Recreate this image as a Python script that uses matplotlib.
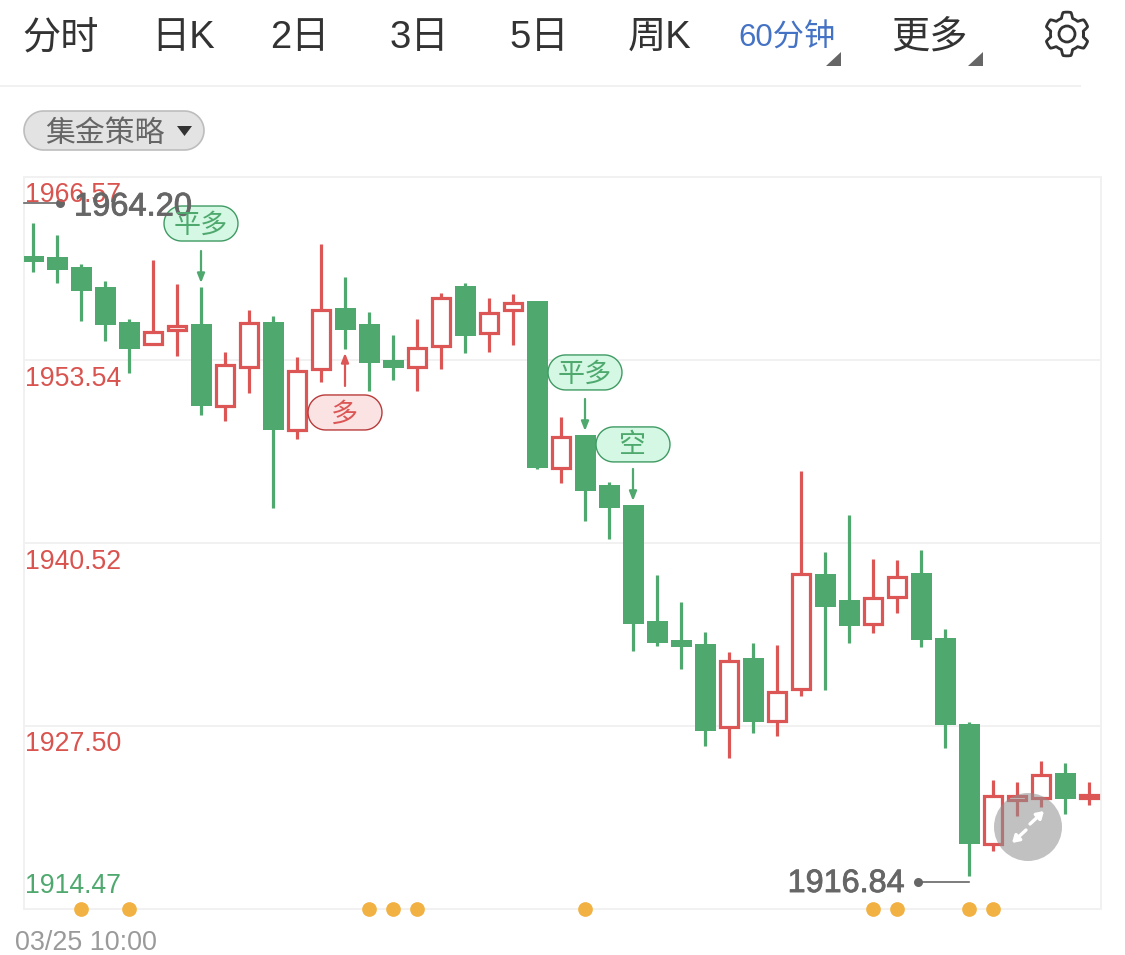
import numpy as np
import matplotlib
matplotlib.use("Agg")
import matplotlib.pyplot as plt
import matplotlib.patheffects as pe
from matplotlib.patches import Polygon, Circle, Rectangle

plt.rcParams['font.family'] = ['Liberation Sans', 'Noto Sans CJK SC', 'DejaVu Sans']

# candles
opens = [1960.95, 1960.88, 1960.16, 1958.74, 1956.25, 1954.61, 1955.61, 1956.11, 1950.20, 1952.98,
         1956.25, 1948.49, 1952.83, 1957.25, 1956.11, 1953.55, 1952.98, 1954.47, 1958.81, 1955.40,
         1957.03, 1957.74, 1945.79, 1948.21, 1944.65, 1943.23, 1934.97, 1933.62, 1933.33, 1927.36,
         1932.34, 1927.78, 1930.06, 1938.32, 1936.47, 1934.69, 1936.61, 1938.39, 1933.76, 1927.64,
         1919.03, 1922.16, 1922.30, 1924.15, 1922.30]
highs = [1963.30, 1962.44, 1960.38, 1959.17, 1956.46, 1960.66, 1958.95, 1958.74, 1954.12, 1957.10,
         1956.68, 1953.76, 1961.80, 1959.45, 1956.96, 1955.33, 1956.46, 1958.31, 1959.03, 1957.96,
         1958.24, 1957.74, 1949.49, 1948.21, 1944.86, 1943.23, 1938.24, 1936.32, 1934.19, 1932.76,
         1933.40, 1933.26, 1945.65, 1939.88, 1942.51, 1939.38, 1939.31, 1940.02, 1934.40, 1927.78,
         1923.65, 1923.51, 1925.01, 1924.86, 1923.51]
lows = [1959.81, 1959.03, 1956.32, 1954.90, 1952.62, 1954.61, 1953.83, 1949.63, 1949.20, 1951.20,
        1943.01, 1947.92, 1951.98, 1954.33, 1951.34, 1952.12, 1951.34, 1952.91, 1954.04, 1954.12,
        1954.61, 1945.79, 1944.79, 1942.09, 1940.81, 1932.84, 1933.19, 1931.55, 1926.07, 1925.22,
        1927.00, 1926.79, 1929.63, 1930.06, 1933.40, 1934.12, 1935.54, 1933.12, 1925.93, 1916.82,
        1918.60, 1921.09, 1921.73, 1921.23, 1921.88]
closes = [1960.52, 1959.95, 1958.46, 1956.04, 1954.33, 1955.61, 1956.04, 1950.27, 1953.26, 1956.25,
          1948.56, 1952.83, 1957.18, 1955.68, 1953.33, 1952.98, 1954.47, 1958.03, 1955.25, 1956.96,
          1957.67, 1945.86, 1948.14, 1944.22, 1943.01, 1934.76, 1933.40, 1933.12, 1927.14, 1932.19,
          1927.78, 1929.99, 1938.39, 1935.97, 1934.61, 1936.68, 1938.17, 1933.62, 1927.57, 1919.10,
          1922.59, 1922.59, 1924.08, 1922.30, 1922.66]

# axis and labels
y_ticks = [1966.57, 1953.54, 1940.52, 1927.50, 1914.47]
y_tick_labels = ["1966.57", "1953.54", "1940.52", "1927.50", "1914.47"]
date_label = "03/25 10:00"
tabs = ["分时", "日K", "2日", "3日", "5日", "周K", "60分钟", "更多"]
tab_lefts = [22, 151, 270, 390, 509, 628, 738, 891]

# strategy signals: candle, text
signal_idx = [7, 23, 25, 13]
signal_text = ["平多", "平多", "空", "多"]
dot_idx = [2, 4, 14, 15, 16, 23, 35, 36, 39, 40]

# max / min callouts
high_label = "1964.20"
low_label = "1916.84"
high_mark = 1964.72
low_mark = 1916.39

GREEN = "#4fa96e"
RED = "#dc5656"
GRID = "#f1f1f1"
W, H = 1125, 955

fig = plt.figure(figsize=(W / 100, H / 100), dpi=100, facecolor="white")

# chart area, 24..1101 x 177..909 in pixels
ax = fig.add_axes([24 / W, 1 - 909 / H, 1077 / W, 732 / H])
ax.set_xlim(-0.375, 44.5)
ax.set_ylim(y_ticks[-1], y_ticks[0])
ax.set_xticks([])
ax.set_yticks([])
for s in ax.spines.values():
    s.set_color(GRID)
    s.set_linewidth(1.4)
for v in y_ticks[1:-1]:
    ax.axhline(v, color=GRID, lw=1.4, zorder=1)

body_w = 21 / 24
for i in range(len(opens)):
    up = closes[i] >= opens[i]
    col = RED if up else GREEN
    ax.vlines(i, lows[i], highs[i], color=col, lw=2.3, zorder=2)
    top = max(opens[i], closes[i])
    bot = min(opens[i], closes[i])
    if up:
        # hollow body, pulled in so the outer edge matches the green ones
        inset_x = 1.2 / 24
        inset_y = 1.2 / 14.05
        ax.add_patch(Rectangle((i - body_w / 2 + inset_x, bot + inset_y), body_w - 2 * inset_x,
                               max(top - bot - 2 * inset_y, 0.01),
                               facecolor="white", edgecolor=col, lw=2.3, zorder=3))
    else:
        ax.add_patch(Rectangle((i - body_w / 2, bot), body_w, top - bot,
                               facecolor=col, edgecolor="none", zorder=3))

ax.scatter(dot_idx, [y_ticks[-1]] * len(dot_idx), s=112, color="#f1b143", zorder=5, clip_on=False, linewidths=0)

# overlay in pixel coordinates for the app chrome
ov = fig.add_axes([0, 0, 1, 1], facecolor="none")
ov.set_xlim(0, W)
ov.set_ylim(H, 0)
ov.axis("off")


def px(i, price):
    x, y = ax.transData.transform((i, price))
    return x, H - y


def stadium(x0, x1, y0, y1, **kw):
    # pill shape with fully round ends
    rad = (y1 - y0) / 2
    a = np.linspace(-np.pi / 2, np.pi / 2, 30)
    right = np.column_stack([x1 - rad + rad * np.cos(a), (y0 + y1) / 2 + rad * np.sin(a)])
    left = np.column_stack([x0 + rad - rad * np.cos(a[::-1]), (y0 + y1) / 2 + rad * np.sin(a[::-1])])
    ov.add_patch(Polygon(np.vstack([right, left]), closed=True, **kw))


# tab bar
for t, left in zip(tabs, tab_lefts):
    if t == "60分钟":
        ov.text(left, 39, t, fontsize=22.5, color="#4472c4", va="center", ha="left")
    else:
        ov.text(left, 38, t, fontsize=27.5, color="#333333", va="center", ha="left")
ov.add_patch(Polygon([(826, 66), (841, 66), (841, 52)], color="#666666", lw=0))
ov.add_patch(Polygon([(968, 66), (983, 66), (983, 52)], color="#666666", lw=0))
ov.plot([0, 1080], [86, 86], color=GRID, lw=1.4)

# gear icon
theta = np.linspace(0, 2 * np.pi, 361)
r = 19.2 + 2.7 * np.clip(np.cos(6 * (theta + np.pi / 6)) * 2.2, -1, 1)
ov.plot(1067 + r * np.cos(theta), 34 + r * np.sin(theta), color="#333333", lw=2.0)
ov.add_patch(Circle((1067, 34), 8, facecolor="none", edgecolor="#333333", lw=2.0))

# strategy pill
stadium(24, 204, 111, 150, facecolor="#e3e3e3", edgecolor="#bdbdbd", lw=1.2)
ov.text(45, 134, "集金策略", fontsize=21.5, color="#666666", va="center", ha="left")
ov.add_patch(Polygon([(177, 126), (192, 126), (184.5, 136)], color="#333333", lw=0))

# price labels
for k, (v, lab) in enumerate(zip(y_ticks, y_tick_labels)):
    yy = px(0, v)[1]
    if k == 0:
        yy += 18
    elif k == len(y_ticks) - 1:
        yy -= 23
    else:
        yy += 18.5
    ov.text(25, yy, lab, fontsize=19.2, color=GREEN if k == len(y_ticks) - 1 else "#d9534f",
            va="center", ha="left")
ov.text(15, 943, date_label, fontsize=19.4, color="#9a9a9a", va="center", ha="left")

# max / min callouts
thick = [pe.withStroke(linewidth=0.6, foreground="#666666")]
hx, hy = px(-0.375, high_mark)
ov.plot([hx, hx + 36], [hy, hy], color="#666666", lw=1.2)
ov.plot([hx + 36], [hy], "o", color="#666666", ms=6.5, mew=0)
ov.text(hx + 50, hy + 4, high_label, fontsize=23.5, color="#666666", va="center", ha="left", path_effects=thick)
lx, ly = px(39, low_mark)
ov.plot([lx, lx - 51], [ly, ly], color="#666666", lw=1.2)
ov.plot([lx - 51], [ly], "o", color="#666666", ms=6.5, mew=0)
ov.text(lx - 64, ly + 2, low_label, fontsize=23.3, color="#666666", va="center", ha="right", path_effects=thick)

# strategy signals
pill_gap = [63.5, 62.5, 60.5, 63.5]
for i, t, gap in zip(signal_idx, signal_text, pill_gap):
    is_long = t == "多"
    col = RED if is_long else GREEN
    if is_long:
        sx, sy = px(i, lows[i])
        tail, tip, cy = sy + 37, sy + 4, sy + gap
        face, edge = "#fbe3e3", "#b93a3a"
    else:
        sx, sy = px(i, highs[i])
        tail, tip, cy = sy - 36, sy - 4, sy - gap
        face, edge = "#d4f8e3", "#3f9a63"
    ov.annotate("", xy=(sx, tip), xytext=(sx, tail),
                arrowprops=dict(arrowstyle="-|>,head_width=0.22,head_length=0.55", color=col, lw=1.6,
                                shrinkA=0, shrinkB=0))
    stadium(sx - 37, sx + 37, cy - 17.5, cy + 17.5, facecolor=face, edgecolor=edge, lw=1.0)
    ov.text(sx, cy + 2, t, fontsize=19.5, color=col, va="center", ha="center")

# expand button
ov.add_patch(Circle((1028, 827), 34, facecolor="#8f8f8f", edgecolor="none", alpha=0.55, zorder=6))
ov.annotate("", xy=(1044, 811), xytext=(1030, 824), zorder=7,
            arrowprops=dict(arrowstyle="-|>,head_width=0.25,head_length=0.4", color="white", lw=2.4,
                            shrinkA=0, shrinkB=0))
ov.annotate("", xy=(1012, 843), xytext=(1026, 830), zorder=7,
            arrowprops=dict(arrowstyle="-|>,head_width=0.25,head_length=0.4", color="white", lw=2.4,
                            shrinkA=0, shrinkB=0))

fig.savefig("out.png", dpi=100)
